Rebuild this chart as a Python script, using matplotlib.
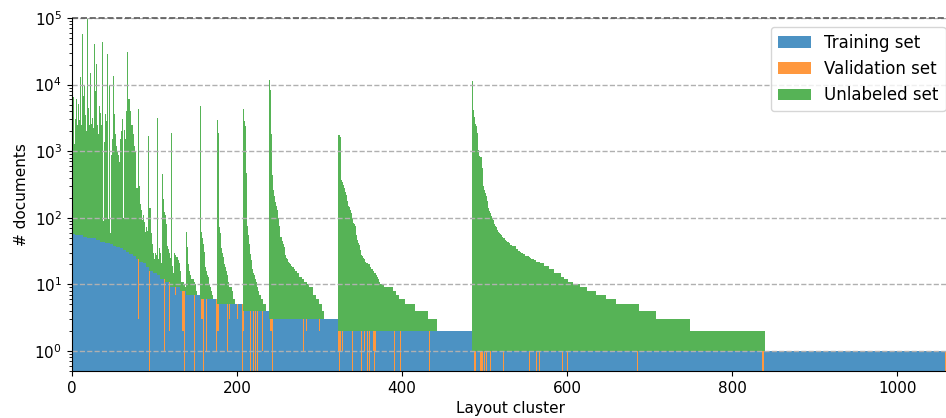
import numpy as np
import matplotlib.pyplot as plt


# =============================================
# Data
# =============================================

# labeled docs (training + validation) per layout cluster, as (docs, n_clusters)
labeled_runs = [(90, 1), (62, 1), (58, 2), (56, 4), (55, 6),
                (52, 4), (50, 6), (49, 6), (46, 4), (44, 6), (42, 6),
                (40, 4), (38, 4), (37, 4), (35, 4), (33, 4), (31, 4),
                (29, 4), (27, 4), (24, 4), (22, 4), (21, 4), (18, 4), (16, 4),
                (15, 5), (14, 4), (12, 6), (11, 6), (9, 12), (8, 7), (7, 18),
                (6, 20), (5, 32), (4, 31), (3, 84), (2, 162), (1, 575)]

# validation docs for the clusters that have some {cluster: docs}
validation = {0: 12, 80: 21, 94: 16, 112: 11, 118: 9, 121: 7, 125: 2,
              134: 6, 135: 6, 136: 8, 148: 7, 155: 4, 157: 3, 158: 3, 159: 6,
              163: 5, 175: 5, 176: 3, 177: 3, 188: 4, 191: 2, 200: 2, 201: 2,
              206: 3, 207: 5, 208: 2, 216: 4, 220: 4, 222: 4, 225: 4, 231: 3,
              240: 1, 241: 1, 242: 1, 243: 3, 280: 2, 284: 1, 300: 1,
              323: 1, 324: 2, 325: 1, 326: 1, 328: 1, 340: 2, 351: 2, 354: 1,
              358: 2, 360: 2, 365: 1, 366: 1, 367: 2, 368: 1, 391: 2, 398: 2,
              433: 2,
              488: 1, 489: 1, 495: 1, 496: 1, 497: 1, 500: 1, 502: 1, 507: 1,
              523: 1, 532: 1, 554: 1, 563: 1, 567: 1, 589: 1, 594: 1, 600: 1,
              658: 1, 685: 1, 686: 1, 749: 1, 837: 1, 838: 1, 1058: 1, 1059: 1}

# unlabeled docs per cluster, one list per block of labeled size
unl_top = [58, 78, 6400, 1240, 3000, 6000, 5300, 2400, 5000, 2900,
           12800, 2400, 3900, 58000, 6700, 9600, 3500, 1950, 5900, 98000,
           4400, 2450, 15000, 2550, 13, 3150, 2150, 41000, 8000, 3650,
           20000, 2450, 1750, 4650, 3650, 3950, 2450, 44000, 46, 1350,
           3550, 5950, 2750, 29000, 53, 9950, 1560, 20, 840, 1460,
           13650, 3560, 19000, 1760, 1160, 960, 840, 660, 845, 1465,
           1965, 2965, 67, 2070, 2070, 1470, 3970, 31000, 5970, 19,
           5970, 3970, 2470, 2470, 1770, 2470, 1170, 970, 256, 256,
           4280, 606, 278, 140, 110, 70, 60, 90, 65, 40,
           55, 45, 35, 1680, 124, 124, 44, 24, 20, 15,
           9, 15, 13, 3186, 12, 10, 21]
unl_11 = [18, 9, 13, 438, 178, 108, 99, 69, 49, 27, 23, 19]
unl_9 = [16, 1891, 111, 10, 6, 21, 19, 17, 17, 17, 14, 12]
unl_8 = [8, 4, 3, 3, 3, 2, 1]
unl_7 = [227, 55, 29, 13, 9, 7, 5, 5, 5, 5, 4, 4, 3, 1, 0, 0, 0, 0]
unl_6 = [4694, 56, 43, 35, 25, 18, 12, 10, 8, 7, 5, 4, 3, 2, 1, 0, 0, 0, 0, 0]
unl_5 = [2965, 1865, 76, 68, 55, 30, 25, 21, 17, 15, 13, 11, 9, 8, 6, 4,
         4, 4, 3, 2, 1, 1, 0, 0, 0, 0, 0, 0, 0, 0, 0, 0]
unl_4 = [4296, 2796, 2356, 461, 142, 70, 51, 37, 25, 19, 16, 13, 11, 10, 8, 7,
         5, 5, 4, 3, 3, 2, 2, 2, 1, 1, 1, 1, 0, 0, 0]
unl_3 = [11597, 8297, 1997, 1827, 437, 257, 207, 177, 171, 147, 128, 97, 72,
         57, 49, 49, 42, 37, 34, 30, 25, 22, 21, 19, 18,
         17, 17, 16, 15, 15, 15, 14, 13, 13, 12, 12, 11,
         10, 10, 10, 9, 9, 9, 8, 8, 8, 7, 7, 7]
unl_3_tail = [(6, 4), (5, 1), (4, 3), (3, 4), (2, 3), (1, 3), (0, 17)]
unl_2 = [1748, 1748, 1648, 1648, 368, 338, 308, 278, 244, 228, 218, 178, 148,
         145, 128, 121, 115, 98, 81, 78, 73, 64, 53, 44, 40, 37, 37, 31, 26,
         25, 23, 22, 21, 20, 19, 19, 18, 18, 16, 16, 15, 15, 14, 13, 13, 13,
         12, 11, 10, 10, 9, 8, 8, 8, 8, 8]
unl_2_tail = [(7, 11), (6, 3), (5, 4), (4, 7), (3, 12), (2, 16), (1, 11), (0, 42)]
unl_1 = [11199, 8599, 4199, 3299, 2599, 2349, 1869, 1629, 1049, 839, 829, 819,
         559, 329, 299, 259, 234, 209, 179, 159, 139, 127, 117, 106, 103, 97,
         93, 79, 75, 71, 67, 64, 60, 58, 56, 54, 52, 50, 49, 48, 46, 45, 44,
         43, 42, 41]
unl_1_tail = [(38, 3), (37, 4), (35, 1), (33, 2), (31, 2), (30, 2), (29, 2),
              (28, 2), (26, 5), (25, 1), (24, 2), (23, 3), (22, 3), (21, 5),
              (20, 4), (18, 6), (16, 7), (14, 8), (12, 4), (11, 4), (10, 7),
              (9, 8), (8, 9), (7, 10), (6, 13), (5, 12), (4, 28), (3, 20),
              (2, 42), (1, 90), (0, 220)]


def expand(runs):
    return np.repeat([v for v, n in runs], [n for v, n in runs])


labeled = expand(labeled_runs)
val = np.zeros(len(labeled))
for k, v in validation.items():
    val[k] = v
train = labeled - val
unlabeled = np.concatenate([unl_top, unl_11, unl_9, unl_8, unl_7, unl_6, unl_5,
                            unl_4, unl_3, expand(unl_3_tail), unl_2,
                            expand(unl_2_tail), unl_1, expand(unl_1_tail)])
x = np.arange(len(labeled))


# =============================================
# Stacked bar chart
# =============================================

W, H = 946, 418
fig, ax = plt.subplots(figsize=(W / 100, H / 100), dpi=100)
fig.subplots_adjust(left=71.7 / W, right=948.3 / W, bottom=1 - 371 / H, top=1 - 18 / H)

# bars are < 1 px wide: no antialiasing so the alpha fills don't pile up
kw = dict(width=1.0, alpha=0.8, linewidth=0, antialiased=False)
ax.bar(x, train, color='tab:blue', label='Training set', **kw)
ax.bar(x, val, bottom=train, color='tab:orange', label='Validation set', **kw)
ax.bar(x, unlabeled, bottom=train + val, color='tab:green', label='Unlabeled set', **kw)

ax.set_yscale('log')
ax.set_ylim(0.5, 1e5)
ax.set_xlim(-0.5, 1062)
ax.set_xticks([0, 200, 400, 600, 800, 1000])
ax.yaxis.grid(True, which='major', linestyle='--', color='#b0b0b0', linewidth=1)
ax.spines['top'].set_visible(False)
ax.axhline(1e5, linestyle='--', color='0.35', linewidth=1.2, clip_on=False)
ax.tick_params(labelsize=11)
ax.set_xlabel('Layout cluster', fontsize=11)
ax.set_ylabel('# documents', fontsize=11)

ax.legend(loc='upper right', bbox_to_anchor=(945.5 / W, 1 - 27 / H),
          bbox_transform=fig.transFigure, borderaxespad=0, fontsize=12)

fig.savefig('out.png', dpi=100)
